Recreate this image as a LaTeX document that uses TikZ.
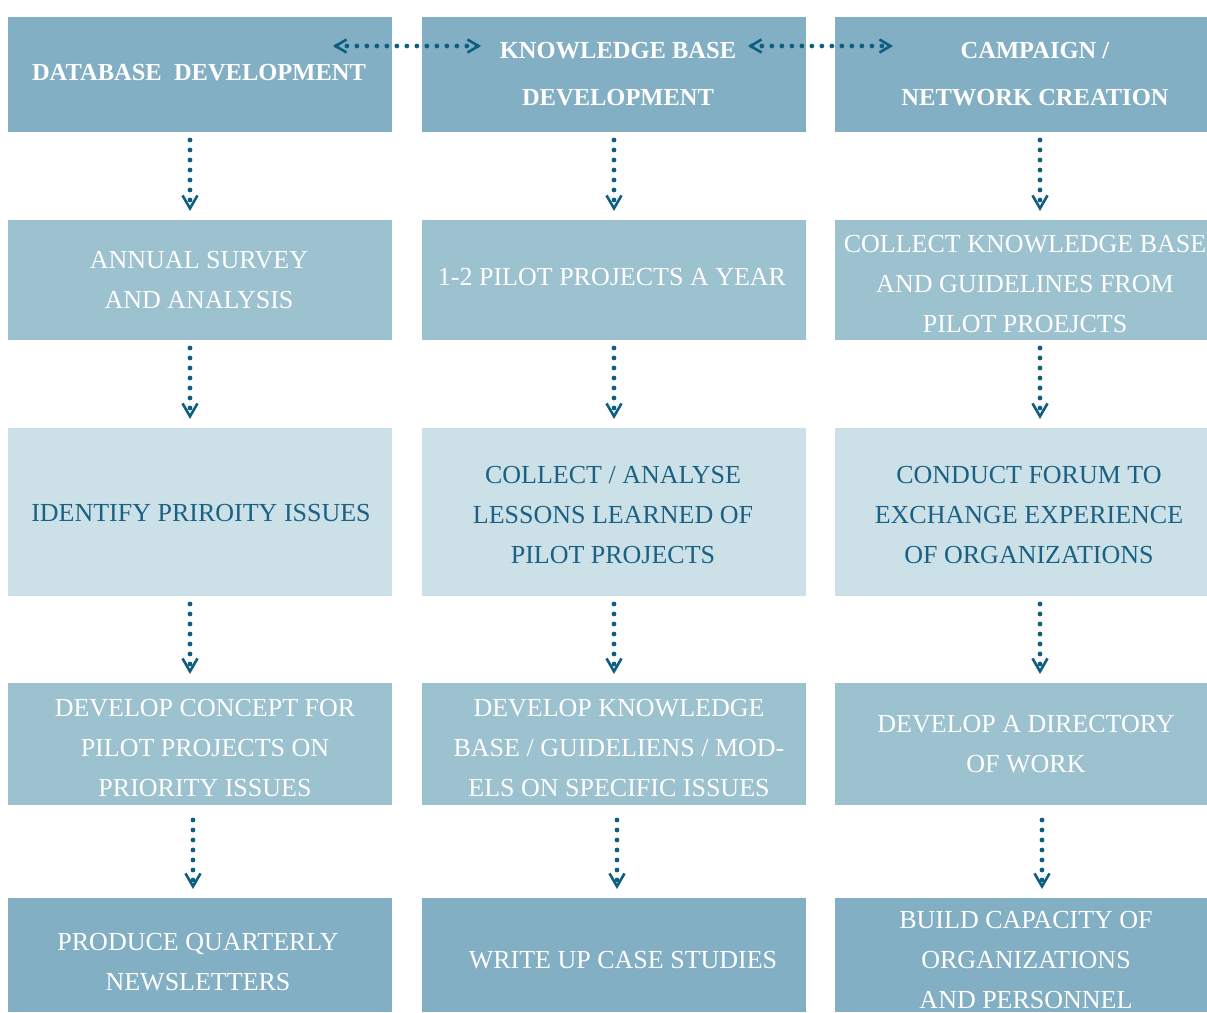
\documentclass[tikz,border=0pt]{standalone}
\usepackage{fontspec}
\setmainfont{Liberation Serif}
\usetikzlibrary{arrows.meta}
\definecolor{cdark}{HTML}{82AFC3}
\definecolor{cmid}{HTML}{9CC1CF}
\definecolor{clight}{HTML}{CCE0E7}
\definecolor{ctxt}{HTML}{1B6184}
\definecolor{carr}{HTML}{0E5E80}
\tikzset{
  boxbase/.style={inner sep=0pt, outer sep=0pt, anchor=north west, draw=none},
  wide/.style={boxbase, minimum width=384pt},
  narrow/.style={boxbase, minimum width=372pt},
  headtxt/.style={text=white, align=center, font=\bfseries\fontsize{24.5}{47}\selectfont},
  whitetxt/.style={text=white, align=center, font=\fontsize{26}{40}\selectfont},
  darktxt/.style={text=ctxt, align=center, font=\fontsize{26}{40}\selectfont},
  vtip/.tip={Straight Barb[length=13pt,width=15pt,line width=2.6pt]},
  htip/.tip={Straight Barb[length=11pt,width=13pt,line width=2.6pt]},
  dotline/.style={draw=carr, line width=4.8pt, line cap=round, dash pattern=on 0pt off 10pt},
  varr/.style={dotline, -vtip},
  harr/.style={dotline, htip-htip},
}
\begin{document}
\begin{tikzpicture}[x=1pt,y=-1pt]
\useasboundingbox (0,0) rectangle (1207,1012);
% boxes
\node[wide, fill=cdark, minimum height=115pt] (b11) at (8,17) {};
\node[wide, fill=cdark, minimum height=115pt] (b12) at (422,17) {};
\node[narrow, fill=cdark, minimum height=115pt] (b13) at (835,17) {};
\node[wide, fill=cmid, minimum height=120pt] (b21) at (8,220) {};
\node[wide, fill=cmid, minimum height=120pt] (b22) at (422,220) {};
\node[narrow, fill=cmid, minimum height=120pt] (b23) at (835,220) {};
\node[wide, fill=clight, minimum height=168pt] (b31) at (8,428) {};
\node[wide, fill=clight, minimum height=168pt] (b32) at (422,428) {};
\node[narrow, fill=clight, minimum height=168pt] (b33) at (835,428) {};
\node[wide, fill=cmid, minimum height=122pt] (b41) at (8,683) {};
\node[wide, fill=cmid, minimum height=122pt] (b42) at (422,683) {};
\node[narrow, fill=cmid, minimum height=122pt] (b43) at (835,683) {};
\node[wide, fill=cdark, minimum height=114pt] (b51) at (8,898) {};
\node[wide, fill=cdark, minimum height=114pt] (b52) at (422,898) {};
\node[narrow, fill=cdark, minimum height=114pt] (b53) at (835,898) {};
% texts
\node[headtxt] (t11) at (199,73) {DATABASE\ \ DEVELOPMENT};
\node[headtxt] (t12) at (618,74) {KNOWLEDGE BASE\\DEVELOPMENT};
\node[headtxt] (t13) at (1035,74) {CAMPAIGN /\\NETWORK CREATION};
\node[whitetxt] (t21) at (199,280) {\fontsize{26}{44}\selectfont ANNUAL SURVEY\\AND ANALYSIS};
\node[whitetxt] (t22) at (612,277) {1-2 PILOT PROJECTS A YEAR};
\node[whitetxt] (t23) at (1025,284) {COLLECT KNOWLEDGE BASE\\AND GUIDELINES FROM\\PILOT PROEJCTS};
\node[darktxt] (t31) at (201,513) {IDENTIFY PRIROITY ISSUES};
\node[darktxt] (t32) at (613,515) {COLLECT / ANALYSE\\LESSONS LEARNED OF\\PILOT PROJECTS};
\node[darktxt] (t33) at (1029,515) {CONDUCT FORUM TO\\EXCHANGE EXPERIENCE\\OF ORGANIZATIONS};
\node[whitetxt] (t41) at (205,748) {DEVELOP CONCEPT FOR\\PILOT PROJECTS ON\\PRIORITY ISSUES};
\node[whitetxt] (t42) at (619,748) {DEVELOP KNOWLEDGE\\BASE / GUIDELIENS / MOD-\\ELS ON SPECIFIC ISSUES};
\node[whitetxt] (t43) at (1026,744) {DEVELOP A DIRECTORY\\OF WORK};
\node[whitetxt] (t51) at (198,962) {PRODUCE QUARTERLY\\NEWSLETTERS};
\node[whitetxt] (t52) at (623,960) {WRITE UP CASE STUDIES};
\node[whitetxt] (t53) at (1026,960) {BUILD CAPACITY OF\\ORGANIZATIONS\\AND PERSONNEL};
% horizontal connectors
\draw[harr, shorten <=-59pt, shorten >=-59pt] ([yshift=28.5pt]b11.east) -- ([yshift=28.5pt]b12.west);
\draw[harr, shorten <=-58pt, shorten >=-58pt] ([yshift=28.5pt]b12.east) -- ([yshift=28.5pt]b13.west);
% vertical connectors
\foreach \r/\s in {1/2,2/3,3/4}{
  \draw[varr, shorten <=8pt, shorten >=9pt] ([xshift=-10pt]b\r1.south) -- ([xshift=-10pt]b\s1.north);
  \draw[varr, shorten <=8pt, shorten >=9pt] (b\r2.south) -- (b\s2.north);
  \draw[varr, shorten <=8pt, shorten >=9pt] ([xshift=19pt]b\r3.south) -- ([xshift=19pt]b\s3.north);
}
\draw[varr, shorten <=15pt, shorten >=9pt] ([xshift=-7pt]b41.south) -- ([xshift=-7pt]b51.north);
\draw[varr, shorten <=15pt, shorten >=9pt] ([xshift=3pt]b42.south) -- ([xshift=3pt]b52.north);
\draw[varr, shorten <=15pt, shorten >=9pt] ([xshift=21pt]b43.south) -- ([xshift=21pt]b53.north);
\end{tikzpicture}
\end{document}
